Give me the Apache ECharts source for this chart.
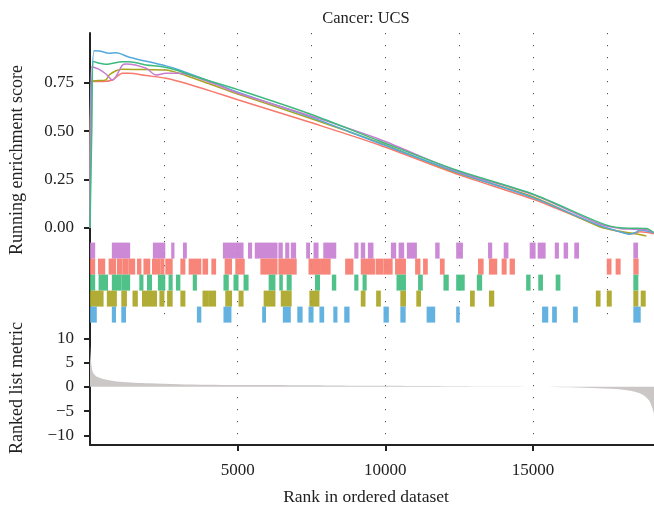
<!DOCTYPE html>
<html>
<head>
    <meta charset="utf-8">
    <script src="https://cdn.jsdelivr.net/npm/echarts@6/dist/echarts.min.js"></script>
</head>
<body style="margin:0">
<div id="main" style="width: 654px;height:512px;"></div>
</body>
<script>
    // running enrichment score, [rank, score]
    var esBlue = [[0,0],[40,0.55],[140,0.915],[310,0.914],[650,0.902],[880,0.905],[1330,0.882],[2570,0.837],[3020,0.816],[4150,0.752],[5030,0.700],[7480,0.572],[9800,0.437],[12480,0.285],[14990,0.156],[17260,0.012],[17940,-0.02],[18280,-0.033],[18500,-0.022],[18620,-0.011],[19090,-0.026]];
    var esGreen = [[0,0],[60,0.5],[120,0.86],[310,0.851],[540,0.845],[1100,0.859],[1330,0.859],[1900,0.842],[2460,0.833],[2910,0.816],[3590,0.781],[5030,0.713],[7480,0.587],[9800,0.449],[12480,0.295],[14990,0.175],[17260,0.027],[17940,0.0],[18380,-0.002],[18840,-0.004],[19090,-0.025]];
    var esPurple = [[0,0],[50,0.833],[300,0.82],[540,0.795],[760,0.764],[1100,0.842],[1220,0.847],[1900,0.825],[2230,0.79],[2570,0.799],[3020,0.799],[4150,0.747],[5030,0.696],[7480,0.578],[9800,0.458],[12480,0.29],[14990,0.172],[17260,0.02],[17940,-0.003],[18380,-0.007],[18840,-0.01],[19090,-0.025]];
    var esOlive = [[0,0],[60,0.76],[310,0.761],[540,0.765],[650,0.790],[880,0.812],[1100,0.82],[1900,0.818],[2570,0.816],[3020,0.799],[4150,0.738],[5030,0.69],[7480,0.565],[9800,0.44],[12480,0.282],[14990,0.161],[17260,0.006],[17940,-0.018],[18380,-0.028],[18840,-0.042]];
    var esRed = [[0,0],[60,0.756],[420,0.756],[760,0.764],[1100,0.799],[1330,0.799],[1900,0.787],[2570,0.773],[3020,0.756],[4150,0.704],[5030,0.661],[7480,0.544],[9800,0.428],[12480,0.275],[14990,0.149],[17260,0.01],[17940,-0.02],[18380,-0.03],[18620,-0.02],[19090,-0.03]];

    // gene set hits, [start rank, end rank]
    var hitsPurple = [[0,176],[740,1360],[2130,2550],[2750,2860],[3150,3280],[4500,5200],[5350,5490],[5580,6350],[6380,6530],[6610,6750],[6800,6980],[7320,7450],[7570,7740],[7900,8340],[8950,9090],[9170,9320],[9410,9600],[10190,10370],[10450,10640],[10730,11070],[11690,11840],[12400,12630],[13480,13620],[14010,14170],[14890,15090],[15160,15430],[15740,15880],[16040,16190],[16400,16560],[18400,18560]];
    var hitsRed = [[0,176],[270,515],[630,880],[910,1100],[1100,1310],[1310,1530],[1590,1740],[1810,2040],[2100,2380],[2380,2520],[2550,2800],[3060,3230],[3340,3770],[3810,4000],[4110,4270],[4560,4810],[4920,5240],[5770,6350],[6380,7000],[7400,7790],[7790,8150],[8640,8920],[9170,9650],[9670,9940],[9940,10250],[10330,10700],[11010,11190],[11280,11440],[11850,12010],[13140,13330],[13510,13790],[13940,14110],[14210,14390],[17500,17660],[17800,17970],[18400,18580]];
    var hitsGreen = [[0,176],[290,610],[740,1060],[1060,1360],[1670,1810],[1930,2100],[2300,2550],[2660,2800],[2910,3060],[3480,3620],[4520,4700],[4860,5030],[5200,5370],[6050,6280],[6410,6530],[6660,6830],[7620,7790],[8190,8340],[8950,9090],[9230,9370],[10380,10700],[11110,11270],[11970,12150],[12400,12690],[13100,13280],[14770,14920],[15180,15340],[15770,15930],[18400,18570]];
    var hitsOlive = [[0,460],[570,910],[1060,1250],[1440,1620],[1760,2100],[2100,2270],[2350,2520],[2610,2800],[3060,3230],[3810,4000],[4000,4270],[4580,4810],[5030,5200],[5880,6280],[6460,6830],[7430,7770],[9170,9330],[9690,9850],[10510,10700],[11050,11210],[12870,13030],[13510,13690],[17130,17290],[17500,17670],[18400,18570],[18650,18820]];
    var hitsBlue = [[0,230],[740,880],[1060,1220],[3620,3770],[4520,4790],[5830,5960],[6530,6800],[7020,7200],[7400,7570],[7770,7930],[8240,8380],[8610,8790],[9940,10120],[10510,10690],[11400,11690],[12400,12520],[15310,15520],[15650,15810],[16360,16520],[18400,18650]];

    // ranked list metric, [rank, metric]
    var rankedMetric = [[0,8.7],[40,5],[80,3.3],[150,2.5],[300,1.9],[600,1.4],[1000,1.05],[1500,0.85],[2000,0.72],[3000,0.55],[4000,0.45],[6000,0.35],[8000,0.28],[10000,0.2],[12000,0.12],[14000,0.05],[15000,0],[16000,-0.1],[17000,-0.25],[17800,-0.45],[18300,-0.8],[18600,-1.3],[18800,-2],[18950,-3],[19050,-4.5],[19100,-5.5]];

    var esTicks = [0, 0.25, 0.5, 0.75];
    var metricTicks = [-10, -5, 0, 5, 10];
    var rankTicks = [5000, 10000, 15000];

    var colBlue = '#52aadc', colGreen = '#3dba7c', colPurple = '#c77cd0', colOlive = '#a9a31f', colRed = '#f7786c';
    var FONT = '"Liberation Serif", "DejaVu Serif", serif';
    var XMAX = 19100;

    var myChart = echarts.init(document.getElementById('main'));

    var rows = [[hitsPurple, colPurple], [hitsRed, colRed], [hitsGreen, colGreen], [hitsOlive, colOlive], [hitsBlue, colBlue]];
    var hitData = [];
    rows.forEach(function (r, i) {
        r[0].forEach(function (h) { hitData.push([h[0], h[1], i, r[1]]); });
    });

    var dotted = { show: true, lineStyle: { type: [1.2, 10.8], color: '#555', width: 1 } };
    var axisCol = '#222';

    function esLine(data, color) {
        return {
            type: 'line', xAxisIndex: 0, yAxisIndex: 0, data: data,
            smooth: 0.3, showSymbol: false, symbol: 'none',
            lineStyle: { color: color, width: 1.5 }, z: 3
        };
    }

    option = {
        animation: false,
        textStyle: { fontFamily: FONT },
        grid: [
            { left: 90, right: 0, top: 33, height: 208 },
            { left: 90, right: 0, top: 241, height: 84 },
            { left: 90, right: 0, top: 325, height: 120 }
        ],
        xAxis: [
            { gridIndex: 0, type: 'value', min: 0, max: XMAX, interval: 2500,
              axisLine: { show: false }, axisTick: { show: false }, axisLabel: { show: false }, splitLine: dotted },
            { gridIndex: 1, type: 'value', min: 0, max: XMAX, interval: 2500,
              axisLine: { show: false }, axisTick: { show: false }, axisLabel: { show: false }, splitLine: dotted },
            { gridIndex: 2, type: 'value', min: 0, max: XMAX, interval: 2500,
              axisLine: { show: true, onZero: false, lineStyle: { color: axisCol, width: 2 } },
              axisTick: { show: true, customValues: rankTicks, length: 6, lineStyle: { color: axisCol, width: 2 } },
              axisLabel: { show: true, customValues: rankTicks, margin: 17, fontSize: 17, color: axisCol, fontFamily: FONT,
                           formatter: function (v) { return String(v); } },
              splitLine: dotted }
        ],
        yAxis: [
            { gridIndex: 0, type: 'value', min: -0.068, max: 1.007,
              axisLine: { show: true, onZero: false, lineStyle: { color: axisCol, width: 2 } },
              axisTick: { show: true, customValues: esTicks, length: 6, lineStyle: { color: axisCol, width: 2 } },
              axisLabel: { show: true, customValues: esTicks, margin: 16, fontSize: 17, color: axisCol, fontFamily: FONT,
                           formatter: function (v) { return v.toFixed(2); } },
              splitLine: { show: false } },
            { gridIndex: 1, type: 'value', min: -0.1, max: 5.15, inverse: true,
              axisLine: { show: true, onZero: false, lineStyle: { color: axisCol, width: 2 } },
              axisTick: { show: false }, axisLabel: { show: false }, splitLine: { show: false } },
            { gridIndex: 2, type: 'value', min: -12, max: 12.75,
              axisLine: { show: true, onZero: false, lineStyle: { color: axisCol, width: 2 } },
              axisTick: { show: true, customValues: metricTicks, length: 6, lineStyle: { color: axisCol, width: 2 } },
              axisLabel: { show: true, customValues: metricTicks, margin: 16, fontSize: 17, color: axisCol, fontFamily: FONT,
                           formatter: function (v) { return String(v).replace('-', '\u2212'); } },
              splitLine: { show: false } }
        ],
        graphic: [
            { type: 'text', x: 366, y: 19, style: { text: 'Cancer: UCS', font: '16.5px ' + FONT, fill: '#222', textAlign: 'center', textVerticalAlign: 'middle' } },
            { type: 'text', x: 17, y: 160, rotation: Math.PI / 2, style: { text: 'Running enrichment score', font: '18px ' + FONT, fill: '#222', textAlign: 'center', textVerticalAlign: 'middle' } },
            { type: 'text', x: 17, y: 388, rotation: Math.PI / 2, style: { text: 'Ranked list metric', font: '18px ' + FONT, fill: '#222', textAlign: 'center', textVerticalAlign: 'middle' } },
            { type: 'text', x: 366, y: 497, style: { text: 'Rank in ordered dataset', font: '17.5px ' + FONT, fill: '#222', textAlign: 'center', textVerticalAlign: 'middle' } }
        ],
        series: [
            esLine(esRed, colRed),
            esLine(esOlive, colOlive),
            esLine(esBlue, colBlue),
            esLine(esPurple, colPurple),
            esLine(esGreen, colGreen),
            {
                type: 'custom', xAxisIndex: 1, yAxisIndex: 1, data: hitData, z: 2,
                renderItem: function (params, api) {
                    var s = api.coord([api.value(0), api.value(2)]);
                    var e = api.coord([api.value(1), api.value(2) + 1]);
                    return {
                        type: 'rect',
                        shape: { x: s[0], y: s[1], width: Math.max(e[0] - s[0], 3), height: e[1] - s[1] },
                        style: { fill: hitData[params.dataIndex][3], opacity: 0.9 }
                    };
                }
            },
            {
                type: 'line', xAxisIndex: 2, yAxisIndex: 2, data: rankedMetric,
                smooth: 0.3, showSymbol: false, symbol: 'none',
                lineStyle: { width: 0 }, areaStyle: { color: '#cbc7c7', opacity: 1 }
            }
        ]
    };
    myChart.setOption(option);
</script>
</html>
